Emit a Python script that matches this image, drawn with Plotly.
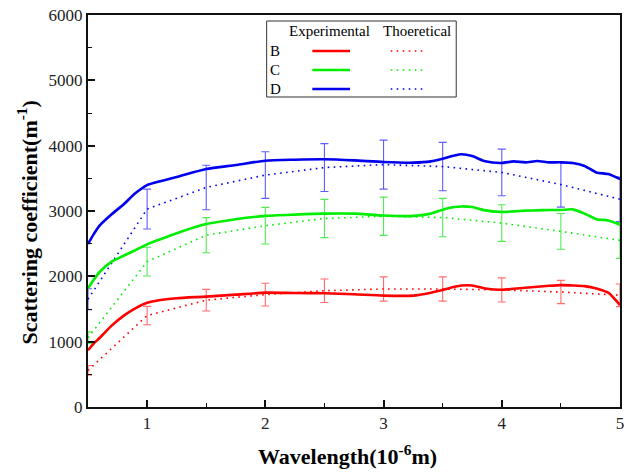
import plotly.graph_objects as go

# Measured (experimental) scattering coefficient, sampled along wavelength (10^-6 m)
wl_exp = [0.5, 0.55, 0.6, 0.7, 0.8, 0.9, 1.0, 1.1, 1.25, 1.5, 1.75, 2.0, 2.25, 2.5,
          2.75, 3.0, 3.25, 3.4, 3.5, 3.6, 3.66, 3.75, 3.86, 4.0, 4.1, 4.2, 4.3, 4.4,
          4.5, 4.6, 4.7, 4.8, 4.9, 5.0]
exp_b = [870, 975, 1060, 1245, 1395, 1510, 1595, 1635, 1665, 1690, 1720, 1750, 1745, 1740,
         1725, 1705, 1705, 1750, 1790, 1840, 1860, 1860, 1815, 1795, 1810, 1825, 1840, 1855,
         1865, 1860, 1850, 1815, 1750, 1560]
exp_c = [1816, 1950, 2070, 2225, 2315, 2400, 2490, 2560, 2660, 2800, 2875, 2925, 2945, 2960,
         2960, 2930, 2925, 2960, 3020, 3060, 3070, 3060, 3010, 2985, 2995, 3005, 3010, 3015,
         3015, 3025, 2960, 2875, 2855, 2790]
exp_d = [2495, 2650, 2780, 2950, 3100, 3270, 3395, 3450, 3520, 3643, 3704, 3770, 3785, 3791,
         3775, 3750, 3740, 3760, 3800, 3850, 3868, 3840, 3760, 3735, 3760, 3745, 3765, 3745,
         3745, 3735, 3690, 3590, 3565, 3490]

# Theoretical curves with their uncertainty
wl_th = [0.5, 1.0, 1.5, 2.0, 2.5, 3.0, 3.5, 4.0, 4.5, 5.0]
th_b = [560, 1400, 1635, 1720, 1780, 1806, 1806, 1792, 1760, 1710]
err_b = [75, 140, 165, 175, 180, 185, 185, 185, 178, 173]
th_c = [1060, 2225, 2630, 2775, 2885, 2920, 2900, 2815, 2688, 2550]
err_c = [90, 220, 268, 280, 293, 293, 293, 280, 273, 275]
th_d = [1650, 3030, 3360, 3550, 3665, 3710, 3680, 3590, 3405, 3180]
err_d = [160, 305, 340, 357, 367, 375, 370, 357, 345, 340]

samples = ["B", "C", "D"]
colors = {"B": "#ff0000", "C": "#00ee00", "D": "#0000ee"}
err_colors = {"B": "rgba(255,60,60,0.75)", "C": "rgba(40,230,40,0.8)", "D": "rgba(40,40,255,0.75)"}
exp_series = {"B": exp_b, "C": exp_c, "D": exp_d}
th_series = {"B": (th_b, err_b), "C": (th_c, err_c), "D": (th_d, err_d)}

SERIF = "Liberation Serif, Times New Roman, serif"

fig = go.Figure()
for s in samples:
    vals, errs = th_series[s]
    fig.add_trace(go.Scatter(
        x=wl_th, y=vals, mode="lines", name=f"{s} theoretical",
        line=dict(color=colors[s], width=1.6, dash="1.6px,4.4px"),
        error_y=dict(type="data", array=errs, visible=True,
                     color=err_colors[s], thickness=1.1, width=4),
        showlegend=False,
    ))
for s in samples:
    fig.add_trace(go.Scatter(
        x=wl_exp, y=exp_series[s], mode="lines", name=f"{s} experimental",
        line=dict(color=colors[s], width=2.6, shape="spline", smoothing=0.6),
        showlegend=False,
    ))

# Plot area geometry in pixels, used to place the hand-built legend
W, H = 628, 472
L, R, T, B = 88, 4, 15, 65
pw, ph = W - L - R, H - T - B


def px(x):
    return (x - L) / pw


def py(y):
    return (H - B - y) / ph


shapes = [dict(type="rect", xref="paper", yref="paper",
               x0=px(268), x1=px(459), y0=py(97), y1=py(21),
               line=dict(color="#333333", width=1), fillcolor="white")]
annotations = []
rows_y = {"B": 51, "C": 70, "D": 89}
for s in samples:
    yy = py(rows_y[s])
    shapes.append(dict(type="line", xref="paper", yref="paper",
                       x0=px(314), x1=px(352), y0=yy, y1=yy,
                       line=dict(color=colors[s], width=2.6)))
    shapes.append(dict(type="line", xref="paper", yref="paper",
                       x0=px(393), x1=px(426), y0=yy, y1=yy,
                       line=dict(color=colors[s], width=1.6, dash="1.6px,4.4px")))
    annotations.append(dict(text=s, xref="paper", yref="paper", x=px(269), y=yy,
                            xanchor="left", yanchor="middle", showarrow=False,
                            font=dict(family=SERIF, size=15, color="black")))
annotations.append(dict(text="Experimental", xref="paper", yref="paper", x=px(331), y=py(31),
                        xanchor="center", yanchor="middle", showarrow=False,
                        font=dict(family=SERIF, size=15, color="black")))
annotations.append(dict(text="Thoeretical", xref="paper", yref="paper", x=px(419), y=py(31),
                        xanchor="center", yanchor="middle", showarrow=False,
                        font=dict(family=SERIF, size=15, color="black")))

# Axis titles
annotations.append(dict(text="<b>Scattering coefficient(m<sup>-1</sup>)</b>",
                        xref="paper", yref="paper", x=px(27), y=py(222),
                        xanchor="center", yanchor="middle", textangle=-90, showarrow=False,
                        font=dict(family=SERIF, size=22, color="black")))
annotations.append(dict(text="<b>Wavelength(10<sup>-6</sup>m)</b>",
                        xref="paper", yref="paper", x=px(349), y=py(455),
                        xanchor="center", yanchor="middle", showarrow=False,
                        font=dict(family=SERIF, size=22, color="black")))

axis_common = dict(showline=True, linecolor="#111111", linewidth=2, mirror=True,
                   showgrid=False, zeroline=False, ticks="inside", tickcolor="#111111",
                   tickwidth=1.5, tickfont=dict(family=SERIF, size=17, color="#222222"))

fig.update_layout(
    width=W, height=H,
    margin=dict(l=L, r=R, t=T, b=B),
    paper_bgcolor="white", plot_bgcolor="white",
    shapes=shapes, annotations=annotations,
    xaxis=dict(range=[0.5, 5], tickvals=[1, 2, 3, 4, 5], ticklen=7,
               minor=dict(dtick=0.5, tick0=0, ticks="inside", ticklen=4,
                          tickcolor="#111111", tickwidth=1.2),
               **axis_common),
    yaxis=dict(range=[0, 6000], tickvals=[0, 1000, 2000, 3000, 4000, 5000, 6000], ticklen=7,
               minor=dict(dtick=500, tick0=0, ticks="inside", ticklen=4,
                          tickcolor="#111111", tickwidth=1.2),
               **axis_common),
)

fig.write_html("out.html")
